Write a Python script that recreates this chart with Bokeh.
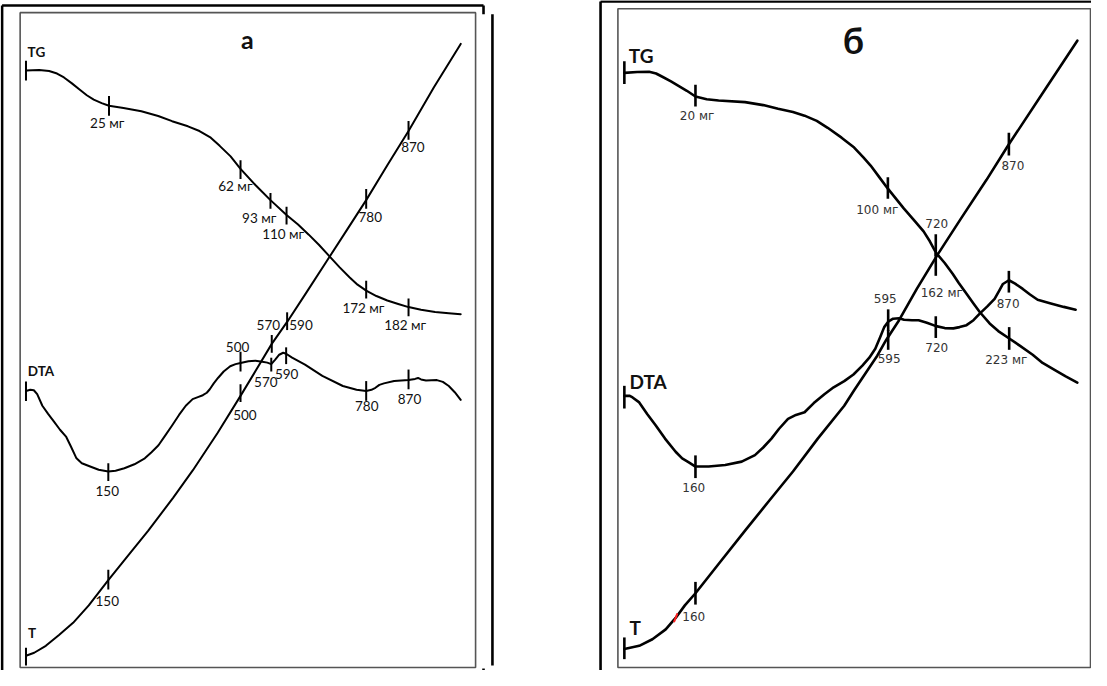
from bokeh.plotting import figure
from bokeh.models import Range1d, ColumnDataSource
from bokeh.core.properties import value
from bokeh.embed import file_html
from bokeh.resources import INLINE

# ---------------- Panel "а" curves ----------------
a_tg_x = [31.7, 45, 55, 63, 70, 78, 86, 93, 100, 108, 115.4, 130, 148, 165, 179, 195, 206.6, 218, 227, 238,
          248, 263, 278.2, 294.4, 306, 316.8, 327, 337.5, 348, 358.1, 366, 374.7, 385, 396, 407, 417.4, 430,
          444.2, 458, 470]
a_tg_y = [77, 76.5, 77.5, 80, 84, 90, 96.5, 102, 106.5, 110, 112.7, 115, 118.3, 123, 128.3, 133.5, 138.3, 145,
          153.3, 164, 176.7, 193, 208.3, 223.3, 233, 243.3, 253.5, 265, 276.5, 286.7, 294, 300, 305.5, 310,
          313.5, 316.7, 319.5, 321.7, 323, 324]

a_t_x = [31.7, 40, 51.7, 65, 79.2, 95, 114.7, 135, 155, 180, 200, 225, 248, 264, 279.5, 295.5, 315, 335, 355,
         374.7, 396, 417.4, 443, 470]
a_t_y = [670, 667, 660, 649, 636.7, 619, 593.3, 568, 543.3, 510, 482, 444, 406.7, 380, 354, 331, 301, 270, 239,
         208.3, 173, 138.3, 94, 50]

a_dta_x = [31.7, 36, 39.6, 43, 48.2, 54, 60.3, 66, 72.3, 77, 82.6, 88, 96.4, 105, 114.7, 122, 130.9, 141,
           151.5, 158, 165.3, 172, 179, 186, 192.8, 199.7, 205, 210, 214, 217, 221, 225.5, 231, 237.6, 243,
           248, 256, 263, 270, 275, 279, 283, 287, 291, 294, 300, 313, 330.5, 351.2, 365, 374.7, 380, 384,
           388, 392.6, 402.9, 417.4, 424, 427, 430, 435, 446, 452, 458, 464, 470]
a_dta_y = [401.7, 400.5, 401, 405, 416.7, 425, 433.3, 441, 448.3, 458, 470, 475, 478.3, 481.5, 483.3, 482.5,
           480, 476, 470, 464, 456.7, 447, 436.7, 426, 416.7, 410, 408, 406, 403.5, 400, 394, 388.3, 382,
           376.7, 374.5, 373.3, 371.5, 371, 372, 373, 374.5, 370, 365, 363, 364, 368, 375, 386.5, 396.7,
           400.5, 401.7, 400.5, 398.5, 395.5, 394, 391.7, 390.7, 389.5, 388.5, 390, 391, 390.7, 392.5,
           396.7, 403, 410.7]

# tick marks of panel "а": x, centre y, half length
a_tick_x = [31.7, 115.4, 248, 278.2, 294.4, 374.7, 417.4,
            31.7, 114.7, 248, 279.5, 295, 374.7, 417.4,
            31.7, 114.7, 248, 279, 294, 374.7, 417.4]
a_tick_y = [77, 112.7, 177.5, 209, 224, 299, 317,
            671, 593, 404, 354, 331, 207, 137.5,
            402, 484, 372, 375, 366, 401.7, 390]
a_tick_h = [10, 10, 9.5, 8, 9, 9, 9,
            9, 10, 9, 9, 9, 10, 9.5,
            10, 9, 10, 7, 8.5, 10, 10]

a_lab_text = ["25 мг", "62 мг", "93  мг", "110 мг", "172 мг", "182 мг",
              "870", "780", "570", "590", "500", "570", "590", "500", "780", "870", "150", "150"]
a_lab_x = [113.6, 242.8, 268.6, 291, 371.9, 414,
           421.8, 378.8, 276, 309, 245, 273.5, 294.5, 252.4, 375.3, 418.4, 113.6, 113.6]
a_lab_y = [130, 194, 226, 243, 317.3, 335,
           154, 225, 335, 335, 357, 393, 385, 426, 417.3, 410, 503.3, 615]

a_series_text = ["TG", "DTA", "T"]
a_series_x = [42.2, 46.8, 37.9]
a_series_y = [58.3, 381.7, 646.7]

# ---------------- Panel "б" curves ----------------
b_tg_x = [635, 648, 660, 667, 673.3, 682, 690, 698, 706.7, 718, 730, 756.7, 775, 790, 805, 816.7, 829, 840,
          854, 866.7, 876, 883.3, 892, 900.7, 909, 916.7, 927, 936.7, 943, 949.3, 958, 966, 972, 980, 987,
          993.3, 1003.3, 1012, 1022.7, 1034, 1046.7, 1056.7, 1070, 1080, 1091.7]
b_tg_y = [79.3, 78.5, 78.3, 80, 83.3, 88, 92.7, 97.5, 103.3, 106, 107.3, 109, 112, 115.7, 119, 122.7, 128,
          135, 145, 155, 165, 173.3, 185, 196.7, 207, 216.7, 228.5, 240, 250, 261.7, 272, 283, 292, 303.3,
          313, 321.7, 333.3, 341, 348.3, 356, 365, 373.3, 381, 387, 393.3]

b_t_x = [635, 650, 663.3, 676.7, 686.7, 696, 706.7, 730, 756.7, 781, 805, 830, 856.7, 866.7, 878, 890, 899,
         912, 930, 951, 975, 1000, 1022.7, 1058, 1091.7]
b_t_y = [663.3, 660, 653.3, 643.3, 631.7, 619, 606.7, 577, 543.3, 513, 483.3, 450, 416.7, 401, 384, 366,
         350, 330, 298, 263.3, 226, 188, 151.7, 98, 46.7]

b_dta_x = [635, 640, 643.3, 650, 658, 666.7, 676, 686.7, 693.3, 700, 706.7, 720, 736.7, 753.3, 766.7, 775,
           783.3, 791, 800, 808, 816.7, 826, 836.7, 846, 856.7, 866, 875, 882, 888, 893, 897, 901, 906, 912,
           917, 925, 931.7, 940, 949.3, 958, 966.7, 973, 980, 987, 993.3, 1001, 1008.3, 1013, 1016.7,
           1022.7, 1029, 1036.7, 1044, 1051.7, 1065, 1078, 1090]
b_dta_y = [406.7, 406.5, 408.3, 413.3, 425, 436.7, 450, 463.3, 470, 474, 478.3, 478.3, 476.7, 473.3, 466.7,
           459, 450, 440, 430, 426, 423.3, 414, 405, 398, 391.7, 385, 376, 368, 359, 347, 337, 331.5, 328.5,
           328, 329.5, 330, 330, 332.5, 336, 338, 338.3, 337, 335, 330, 323.3, 316, 308.3, 300, 293.3,
           289.5, 293, 298.3, 304, 309.3, 313, 316.5, 319.3]

b_tick_x = [635, 706.7, 900.7, 949, 1023,
            635, 706.7, 901, 949, 1022.7,
            635, 706.7, 901, 949, 1022.7]
b_tick_y = [79, 102.5, 196, 273.5, 348.5,
            662.5, 606.7, 350, 254, 151.5,
            408, 478.5, 330, 337, 291]
b_tick_h = [11.5, 11, 11, 11.5, 11.5,
            11, 11.5, 10, 11, 11.5,
            11.5, 11.5, 11, 11, 11]

b_lab_text = ["20 мг", "100 мг", "720", "870", "162 мг", "595", "870", "595", "720", "223 мг", "160", "160"]
b_lab_x = [708.3, 890, 950, 1026.7, 955, 898, 1022, 902, 950, 1020, 705, 705]
b_lab_y = [122.7, 218.3, 232, 173.3, 302, 308, 313, 369, 358, 370, 500, 630]

b_series_text = ["TG", "DTA", "T"]
b_series_x = [652, 659, 646]
b_series_y = [61.7, 391.7, 641]

titles_text = ["а", "б"]

# ---------------- frames ----------------
frame_x0 = [7.6, 493, 7.6, 502, 493, 611, 611]
frame_y0 = [11, 11, 11, 20, 683, 7, 7]
frame_x1 = [493, 493, 7.6, 502, 493, 611, 1108]
frame_y1 = [11, 20, 688, 680, 688, 688, 7]

inner_left = [25.8, 628.5]
inner_right = [485, 1105]
inner_top = [18.3, 14.3]
inner_bottom = [682, 682]

# ---------------- figure ----------------
p = figure(width=1091, height=670, x_range=Range1d(6, 1106), y_range=Range1d(685, 6),
           output_backend="svg", toolbar_location=None, min_border=0,
           x_axis_location=None, y_axis_location=None)
p.grid.visible = False
p.outline_line_color = None
p.background_fill_color = "white"
p.border_fill_color = "white"

p.quad(left=inner_left, right=inner_right, top=inner_top, bottom=inner_bottom,
       fill_color=None, line_color="#555555", line_width=1.6)
p.segment(x0=frame_x0, y0=frame_y0, x1=frame_x1, y1=frame_y1, line_color="black", line_width=2.6)

for xs, ys in [(a_tg_x, a_tg_y), (a_t_x, a_t_y), (a_dta_x, a_dta_y)]:
    p.line(xs, ys, line_color="black", line_width=2, line_join="round", line_cap="round")
for xs, ys in [(b_tg_x, b_tg_y), (b_t_x, b_t_y), (b_dta_x, b_dta_y)]:
    p.line(xs, ys, line_color="black", line_width=2.6, line_join="round", line_cap="round")

# red blemish on the T curve of panel б
p.line([685, 688.5], [636, 627], line_color="#ff2020", line_width=2)

a_ticks = ColumnDataSource(dict(x=a_tick_x,
                                y0=[y - h for y, h in zip(a_tick_y, a_tick_h)],
                                y1=[y + h for y, h in zip(a_tick_y, a_tick_h)]))
p.segment(x0="x", y0="y0", x1="x", y1="y1", source=a_ticks, line_color="black", line_width=2)
b_ticks = ColumnDataSource(dict(x=b_tick_x,
                                y0=[y - h for y, h in zip(b_tick_y, b_tick_h)],
                                y1=[y + h for y, h in zip(b_tick_y, b_tick_h)]))
p.segment(x0="x", y0="y0", x1="x", y1="y1", source=b_ticks, line_color="black", line_width=2.6)

p.text(x=a_lab_x, y=a_lab_y, text=a_lab_text, text_font=value("Lato"), text_font_size="13.5px",
       text_align="center", text_baseline="middle", text_color="#111111")
p.text(x=b_lab_x, y=b_lab_y, text=b_lab_text, text_font=value("DejaVu Sans"), text_font_size="12px",
       text_align="center", text_baseline="middle", text_color="#333333")
p.text(x=a_series_x, y=a_series_y, text=a_series_text, text_font=value("Lato"), text_font_size="13.5px",
       text_font_style="bold", text_align="center", text_baseline="middle", text_color="#111111")
p.text(x=b_series_x, y=b_series_y, text=b_series_text, text_font=value("Lato"), text_font_size="19px",
       text_font_style="bold", text_align="center", text_baseline="middle", text_color="#111111")
p.text(x=[254.8], y=[45], text=[titles_text[0]], text_font=value("Lato"), text_font_size="25px",
       text_font_style="bold", text_align="center", text_baseline="middle", text_color="#111111")
p.text(x=[866], y=[46], text=[titles_text[1]], text_font=value("Lato"), text_font_size="36px",
       text_font_style="bold", text_align="center", text_baseline="middle", text_color="#111111")

open("out.html", "w").write(file_html(p, INLINE))
